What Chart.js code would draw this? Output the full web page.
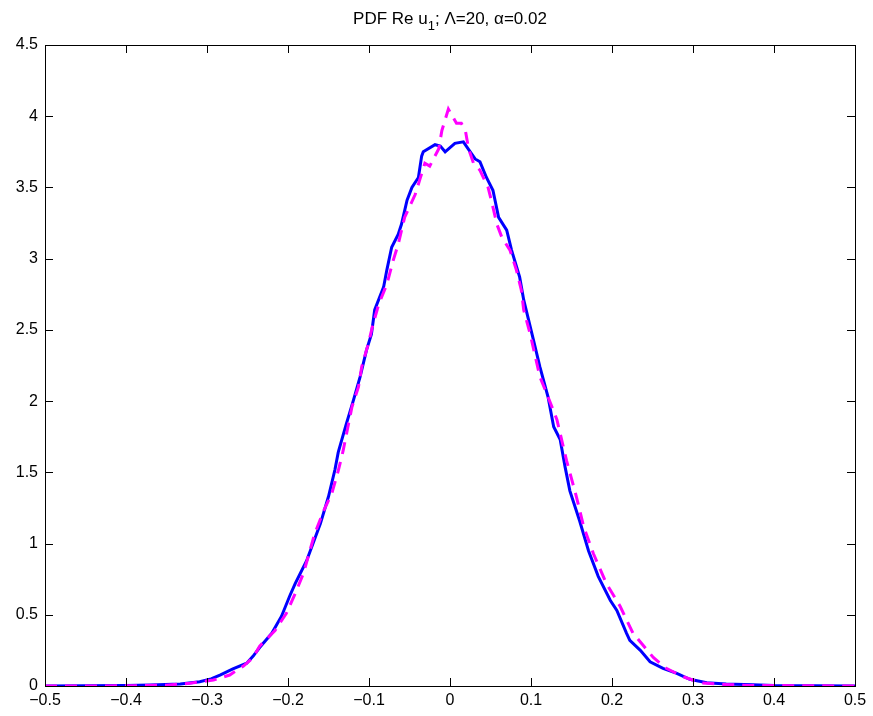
<!DOCTYPE html>
<html>
<head>
<meta charset="utf-8">
<script src="https://cdn.jsdelivr.net/npm/chart.js@4.4.0/dist/chart.umd.min.js"></script>
<style>
  html, body { margin: 0; padding: 0; background: #fff; }
  canvas { display: block; }
</style>
</head>
<body>
<canvas id="pdfChart" width="873" height="716"></canvas>
<script>
// ===== DATA =====
const blueX = [-0.5, -0.45, -0.40, -0.37, -0.333, -0.309, -0.295, -0.284, -0.268, -0.251, -0.243, -0.235,
  -0.220, -0.208, -0.198, -0.191, -0.177, -0.160, -0.150, -0.142, -0.138, -0.128, -0.119, -0.111,
  -0.103, -0.097, -0.093, -0.082, -0.078, -0.072, -0.064, -0.060, -0.053, -0.047, -0.039, -0.035,
  -0.033, -0.0185, -0.012, -0.006, 0.006, 0.0165, 0.025, 0.031, 0.037, 0.045, 0.053, 0.060, 0.070,
  0.076, 0.086, 0.091, 0.103, 0.111, 0.121, 0.128, 0.136, 0.142, 0.148, 0.160, 0.171, 0.183, 0.198,
  0.206, 0.218, 0.222, 0.235, 0.247, 0.263, 0.280, 0.296, 0.317, 0.341, 0.374, 0.40, 0.45, 0.5];
const blueY = [0, 0.001, 0.003, 0.007, 0.014, 0.03, 0.05, 0.077, 0.12, 0.16, 0.21, 0.27,
  0.37, 0.49, 0.63, 0.72, 0.88, 1.14, 1.33, 1.52, 1.64, 1.84, 2.01, 2.17,
  2.36, 2.47, 2.64, 2.80, 2.92, 3.08, 3.17, 3.24, 3.41, 3.50, 3.57, 3.72,
  3.75, 3.80, 3.79, 3.75, 3.81, 3.82, 3.75, 3.70, 3.68, 3.57, 3.48, 3.29, 3.20,
  3.06, 2.87, 2.71, 2.43, 2.24, 2.03, 1.82, 1.73, 1.54, 1.37, 1.16, 0.95, 0.77, 0.60,
  0.53, 0.37, 0.32, 0.25, 0.17, 0.124, 0.089, 0.047, 0.023, 0.014, 0.009, 0.004, 0.001, 0];

const pinkX = [-0.5, -0.40, -0.35, -0.321, -0.292, -0.272, -0.255, -0.243, -0.235, -0.216, -0.202,
  -0.191, -0.181, -0.167, -0.156, -0.146, -0.138, -0.132, -0.126, -0.121, -0.113, -0.109, -0.101,
  -0.095, -0.088, -0.078, -0.070, -0.064, -0.056, -0.043, -0.037, -0.031, -0.025, -0.014, -0.010,
  -0.002, 0.008, 0.014, 0.019, 0.023, 0.029, 0.037, 0.047, 0.051, 0.058, 0.064, 0.074, 0.082, 0.088,
  0.091, 0.099, 0.111, 0.121, 0.132, 0.144, 0.156, 0.165, 0.177, 0.193, 0.210, 0.226, 0.251, 0.267,
  0.288, 0.309, 0.333, 0.37, 0.5];
const pinkY = [0, 0.001, 0.006, 0.019, 0.042, 0.077, 0.14, 0.20, 0.28, 0.39, 0.51,
  0.65, 0.79, 1.07, 1.23, 1.35, 1.51, 1.65, 1.82, 1.96, 2.10, 2.24, 2.40,
  2.54, 2.68, 2.82, 2.99, 3.10, 3.29, 3.45, 3.56, 3.67, 3.65, 3.77, 3.90,
  4.05, 3.95, 3.95, 3.90, 3.77, 3.67, 3.62, 3.50, 3.41, 3.24, 3.15, 3.06, 2.92, 2.78,
  2.64, 2.47, 2.17, 2.03, 1.87, 1.58, 1.33, 1.12, 0.93, 0.72, 0.56, 0.37, 0.20, 0.124,
  0.065, 0.023, 0.012, 0.004, 0];

const xTicks = [-0.5, -0.4, -0.3, -0.2, -0.1, 0, 0.1, 0.2, 0.3, 0.4, 0.5];
const yTicks = [0, 0.5, 1, 1.5, 2, 2.5, 3, 3.5, 4, 4.5];

const FONT = "'Liberation Sans', Arial, Helvetica, sans-serif";

const toPoints = (xs, ys) => xs.map((x, i) => ({ x: x, y: ys[i] }));

// matlab style box + inward ticks + title with subscript
const matlabAxes = {
  id: "matlabAxes",
  afterDraw(chart) {
    const { ctx, chartArea: a, scales } = chart;
    const tl = 8;
    ctx.save();
    ctx.strokeStyle = "#000";
    ctx.lineWidth = 1;
    ctx.beginPath();
    xTicks.forEach(v => {
      const px = Math.round(scales.x.getPixelForValue(v)) + 0.5;
      ctx.moveTo(px, a.bottom); ctx.lineTo(px, a.bottom - tl);
      ctx.moveTo(px, a.top); ctx.lineTo(px, a.top + tl);
    });
    yTicks.forEach(v => {
      const py = Math.round(scales.y.getPixelForValue(v)) + 0.5;
      ctx.moveTo(a.left, py); ctx.lineTo(a.left + tl, py);
      ctx.moveTo(a.right, py); ctx.lineTo(a.right - tl, py);
    });
    ctx.stroke();
    ctx.strokeRect(Math.round(a.left) + 0.5, Math.round(a.top) + 0.5,
      Math.round(a.right - a.left), Math.round(a.bottom - a.top));

    // title: PDF Re u_1; Λ=20, α=0.02
    const parts = [
      { t: "PDF Re u", size: 17, dy: 0 },
      { t: "1", size: 13, dy: 6 },
      { t: "; \u039B=20, \u03B1=0.02", size: 17, dy: 0 }
    ];
    let total = 0;
    parts.forEach(p => { ctx.font = p.size + "px " + FONT; p.w = ctx.measureText(p.t).width; total += p.w; });
    let x = (a.left + a.right) / 2 - total / 2;
    const base = 24;
    ctx.fillStyle = "#000";
    ctx.textBaseline = "alphabetic";
    ctx.textAlign = "left";
    parts.forEach(p => {
      ctx.font = p.size + "px " + FONT;
      ctx.fillText(p.t, x, base + p.dy);
      x += p.w;
    });
    ctx.restore();
  }
};

const fmt = v => {
  const s = String(Math.round(v * 10) / 10);
  return s.replace("-", "\u2212");
};

new Chart(document.getElementById("pdfChart").getContext("2d"), {
  type: "line",
  data: {
    datasets: [
      {
        label: "dashed",
        data: toPoints(pinkX, pinkY),
        borderColor: "#ff00ff",
        borderWidth: 3,
        borderDash: [12, 8],
        pointRadius: 0,
        fill: false,
        tension: 0,
        order: 0
      },
      {
        label: "solid",
        data: toPoints(blueX, blueY),
        borderColor: "#0000ff",
        borderWidth: 3,
        pointRadius: 0,
        fill: false,
        tension: 0,
        order: 1
      }
    ]
  },
  options: {
    responsive: false,
    animation: false,
    events: [],
    layout: { padding: { top: 45, right: 18, left: 0, bottom: 0 } },
    plugins: {
      legend: { display: false },
      tooltip: { enabled: false },
      title: { display: false }
    },
    scales: {
      x: {
        type: "linear",
        min: -0.5,
        max: 0.5,
        afterFit: s => { s.height = 30; },
        afterBuildTicks: s => { s.ticks = xTicks.map(v => ({ value: v })); },
        grid: { display: false, drawTicks: false },
        border: { display: false },
        ticks: {
          color: "#000",
          padding: 5,
          maxRotation: 0,
          autoSkip: false,
          font: { family: FONT, size: 16 },
          callback: v => fmt(v)
        }
      },
      y: {
        type: "linear",
        min: 0,
        max: 4.5,
        afterFit: s => { s.width = 45; },
        afterBuildTicks: s => { s.ticks = yTicks.map(v => ({ value: v })); },
        grid: { display: false, drawTicks: false },
        border: { display: false },
        ticks: {
          color: "#000",
          padding: 7,
          autoSkip: false,
          font: { family: FONT, size: 16 },
          callback: v => String(v)
        }
      }
    }
  },
  plugins: [matlabAxes]
});
</script>
</body>
</html>
